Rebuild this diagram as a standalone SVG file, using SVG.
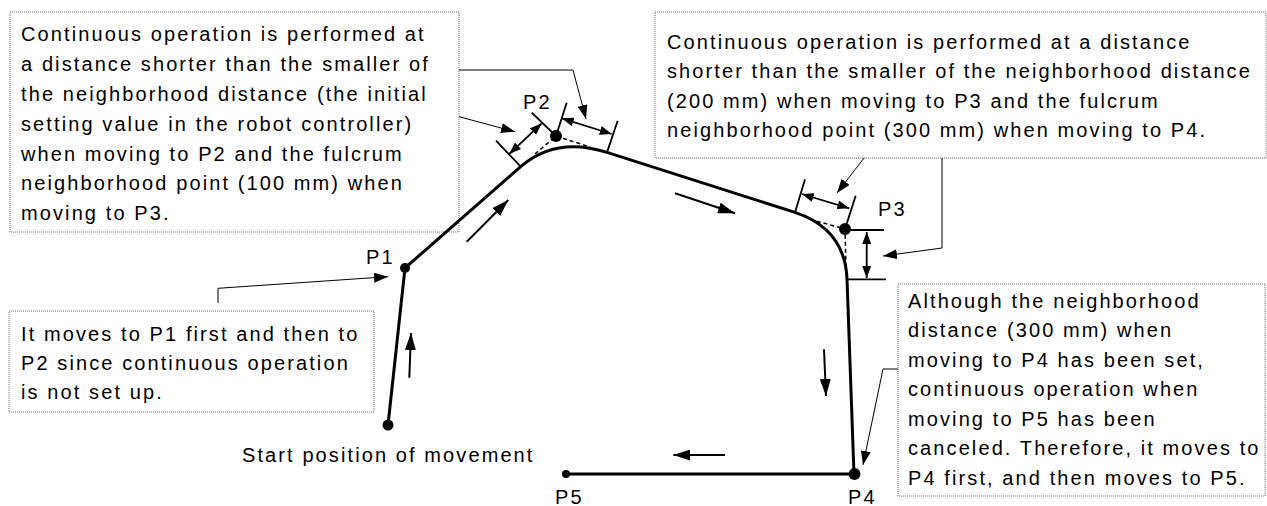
<svg xmlns="http://www.w3.org/2000/svg" width="1267" height="506" viewBox="0 0 1267 506">
<style>
text{font-family:"Liberation Sans",Arial,sans-serif;font-size:20px;letter-spacing:2.1px;fill:#000}
.box{fill:#fff;stroke:#666;stroke-width:1;stroke-dasharray:1 1}
.path{fill:none;stroke:#000;stroke-width:3;stroke-linejoin:round}
.tick{stroke:#000;stroke-width:1.8;fill:none}
.dash{stroke:#000;stroke-width:1.5;stroke-dasharray:4 3;fill:none}
.dim{stroke:#000;stroke-width:1.8;fill:none;marker-start:url(#dh);marker-end:url(#dh)}
.mv{stroke:#000;stroke-width:2;fill:none;marker-end:url(#big)}
.lead{stroke:#000;stroke-width:1;fill:none;marker-end:url(#lh)}
</style>
<defs>
<marker id="big" viewBox="0 0 17 11" refX="17" refY="5.5" markerWidth="17" markerHeight="11" orient="auto" markerUnits="userSpaceOnUse"><path d="M0,0 L17,5.5 L0,11 z" fill="#000"/></marker>
<marker id="lh" viewBox="0 0 14 10" refX="14" refY="5" markerWidth="14" markerHeight="10" orient="auto" markerUnits="userSpaceOnUse"><path d="M0,0 L14,5 L0,10 z" fill="#000"/></marker>
<marker id="dh" viewBox="0 0 12 9" refX="12" refY="4.5" markerWidth="12" markerHeight="9" orient="auto-start-reverse" markerUnits="userSpaceOnUse"><path d="M0,0 L12,4.5 L0,9 z" fill="#000"/></marker>
</defs>

<g id="note-p2">
<rect class="box" x="10" y="12" width="449" height="220"/>
<text x="21" y="41">Continuous operation is performed at</text>
<text x="21" y="71">a distance shorter than the smaller of</text>
<text x="21" y="101">the neighborhood distance (the initial</text>
<text x="21" y="130.5">setting value in the robot controller)</text>
<text x="21" y="160.5">when moving to P2 and the fulcrum</text>
<text x="21" y="190">neighborhood point (100 mm) when</text>
<text x="21" y="220">moving to P3.</text>
</g>

<g id="note-p3">
<rect class="box" x="655" y="12" width="611" height="146"/>
<text x="667" y="48.5">Continuous operation is performed at a distance</text>
<text x="667" y="78">shorter than the smaller of the neighborhood distance</text>
<text x="667" y="107.5">(200 mm) when moving to P3 and the fulcrum</text>
<text x="667" y="137">neighborhood point (300 mm) when moving to P4.</text>
</g>

<g id="note-p1">
<rect class="box" x="9" y="311" width="365" height="101"/>
<text x="21" y="340.5">It moves to P1 first and then to</text>
<text x="21" y="369.5">P2 since continuous operation</text>
<text x="21" y="398.5">is not set up.</text>
</g>

<g id="note-p4">
<rect class="box" x="898" y="284" width="367" height="212"/>
<text x="908" y="307.5">Although the neighborhood</text>
<text x="908" y="337">distance (300 mm) when</text>
<text x="908" y="366.5">moving to P4 has been set,</text>
<text x="908" y="396">continuous operation when</text>
<text x="908" y="425.5">moving to P5 has been</text>
<text x="908" y="455">canceled. Therefore, it moves to</text>
<text x="908" y="484.5">P4 first, and then moves to P5.</text>
</g>

<g id="trajectory">
<path class="path" d="M388,425 L405,268 L520.7,166.6 Q556,136 607,152.4 L795,212.4 Q845,229 847,279 L854,474 L566,474"/>
</g>

<g id="point-start"><circle cx="388" cy="425" r="5.5"/><text x="242" y="462">Start position of movement</text></g>
<g id="point-p1"><circle cx="405" cy="268" r="5"/><text x="366" y="264">P1</text></g>
<g id="point-p2"><circle cx="556" cy="136" r="6"/><text x="523" y="108.5">P2</text></g>
<g id="point-p3"><circle cx="845" cy="229" r="6"/><text x="878" y="216">P3</text></g>
<g id="point-p4"><circle cx="854.5" cy="474" r="6"/><text x="848" y="504">P4</text></g>
<g id="point-p5"><circle cx="566" cy="474" r="4"/><text x="555" y="504">P5</text></g>

<g id="connectors">
<path class="dash" d="M535,154 L556,136 L590,147"/>
<path class="dash" d="M810,219.3 L845,229 L846,268"/>
<path class="tick" d="M496,140.7 L520.7,166.6 M531.7,112.7 L556,136 M566.7,102.7 L556,136 M617.7,120.7 L607,152.4"/>
<path class="tick" d="M805,179.3 L795,212.4 M855.7,195.7 L845,229 M850,230 H884 M847,279.3 H886"/>
<path class="dim" d="M509.3,154 L541.7,123.3"/>
<path class="dim" d="M561.7,118.3 L611.7,134"/>
<path class="dim" d="M801.7,194 L849.3,208.3"/>
<path class="dim" d="M866.7,232 L866.7,278"/>
<path class="mv" d="M409.3,377.7 L411,333"/>
<path class="mv" d="M466.7,241.7 L508.3,200"/>
<path class="mv" d="M675,193.3 L735,213.3"/>
<path class="mv" d="M824,349.3 L826,396"/>
<path class="mv" d="M725,455 L673.3,455"/>
<path class="lead" d="M459,70 H573 L586,119"/>
<path class="lead" d="M459,116.7 L515,131.7"/>
<path class="lead" d="M864,158 L837,193"/>
<path class="lead" d="M942,158 V248 L883,256"/>
<path class="lead" d="M218,303 V288.3 L388,276.7"/>
<path class="lead" d="M898,369 H883 L863,465"/>
</g>
</svg>
